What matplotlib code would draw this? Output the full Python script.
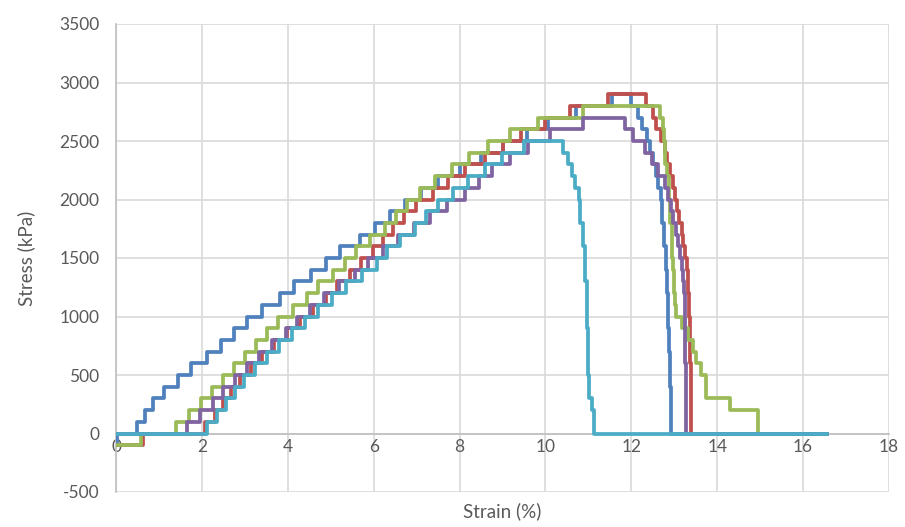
import matplotlib
matplotlib.use("Agg")
import matplotlib.pyplot as plt

# (strain %, stress kPa) step points, stress holds until next strain
blue = [(0, -100), (0.03, 0), (0.50, 100), (0.68, 200), (0.85, 300), (1.12, 400),
        (1.45, 500), (1.74, 600), (2.12, 700), (2.45, 800), (2.74, 900), (3.06, 1000),
        (3.40, 1100), (3.82, 1200), (4.14, 1300), (4.55, 1400), (4.90, 1500), (5.22, 1600),
        (5.68, 1700), (6.03, 1800), (6.38, 1900), (6.73, 2000), (7.10, 2100), (7.50, 2200),
        (8.01, 2300), (8.51, 2400), (9.00, 2500), (9.56, 2600), (10.07, 2700), (10.71, 2800),
        (11.54, 2900), (12.00, 2800), (12.16, 2700), (12.24, 2600), (12.36, 2500),
        (12.43, 2400), (12.51, 2300), (12.57, 2200), (12.63, 2100), (12.68, 2000),
        (12.72, 1800), (12.76, 1600), (12.80, 1400), (12.83, 1200), (12.86, 900),
        (12.88, 700), (12.90, 400), (12.92, 0), (16.55, 0)]

red = [(0, -100), (0.62, 0), (2.08, 100), (2.31, 200), (2.48, 300), (2.67, 400),
       (2.89, 500), (3.14, 600), (3.40, 700), (3.68, 800), (3.98, 900), (4.28, 1000),
       (4.58, 1100), (4.88, 1200), (5.15, 1300), (5.45, 1400), (5.70, 1500), (5.98, 1600),
       (6.22, 1700), (6.45, 1800), (6.70, 1900), (6.98, 2000), (7.37, 2100), (7.72, 2200),
       (8.12, 2300), (8.59, 2400), (9.02, 2500), (9.44, 2600), (9.99, 2700), (10.57, 2800),
       (11.45, 2900), (12.34, 2800), (12.50, 2700), (12.58, 2600), (12.70, 2500),
       (12.78, 2400), (12.83, 2300), (12.90, 2200), (12.96, 2100), (13.02, 2000),
       (13.07, 1900), (13.12, 1800), (13.17, 1700), (13.21, 1600), (13.26, 1500),
       (13.30, 1400), (13.33, 1200), (13.35, 1000), (13.36, 800), (13.37, 600),
       (13.38, 400), (13.39, 0), (16.55, 0)]

green = [(0, -100), (0.58, 0), (1.39, 100), (1.70, 200), (1.97, 300), (2.23, 400),
         (2.50, 500), (2.75, 600), (3.00, 700), (3.25, 800), (3.51, 900), (3.78, 1000),
         (4.13, 1100), (4.44, 1200), (4.71, 1300), (5.06, 1400), (5.33, 1500), (5.60, 1600),
         (5.91, 1700), (6.26, 1800), (6.53, 1900), (6.77, 2000), (7.08, 2100), (7.43, 2200),
         (7.82, 2300), (8.22, 2400), (8.67, 2500), (9.17, 2600), (9.83, 2700), (10.88, 2800),
         (12.67, 2700), (12.74, 2600), (12.76, 2500), (12.79, 2300), (12.83, 2200),
         (12.87, 2000), (12.90, 1800), (12.94, 1500), (12.98, 1400), (13.00, 1200),
         (13.02, 1100), (13.05, 1000), (13.17, 900), (13.32, 800), (13.43, 700),
         (13.51, 600), (13.63, 500), (13.75, 300), (14.30, 200), (14.96, 0), (16.55, 0)]

purple = [(0, 0), (1.65, 100), (1.96, 200), (2.25, 300), (2.50, 400), (2.77, 500),
          (3.04, 600), (3.34, 700), (3.63, 800), (3.95, 900), (4.22, 1000), (4.52, 1100),
          (4.85, 1200), (5.20, 1300), (5.56, 1400), (5.87, 1500), (6.22, 1600), (6.57, 1700),
          (6.95, 1800), (7.31, 1900), (7.70, 2000), (8.13, 2100), (8.45, 2200), (8.75, 2300),
          (9.17, 2400), (9.60, 2500), (10.10, 2600), (10.88, 2700), (11.85, 2600),
          (12.04, 2500), (12.32, 2400), (12.47, 2300), (12.63, 2200), (12.78, 2100),
          (12.86, 2000), (12.93, 1900), (12.98, 1800), (13.04, 1700), (13.09, 1600),
          (13.13, 1500), (13.17, 1400), (13.20, 1300), (13.22, 1200), (13.24, 1000),
          (13.25, 800), (13.26, 600), (13.27, 300), (13.28, 0), (16.55, 0)]

cyan = [(0, 0), (2.13, 100), (2.36, 200), (2.56, 300), (2.77, 400), (2.98, 500),
        (3.24, 600), (3.52, 700), (3.80, 800), (4.10, 900), (4.40, 1000), (4.70, 1100),
        (5.02, 1200), (5.36, 1300), (5.72, 1400), (6.07, 1500), (6.30, 1600), (6.61, 1700),
        (6.96, 1800), (7.23, 1900), (7.50, 2000), (7.85, 2100), (8.20, 2200), (8.59, 2300),
        (8.98, 2400), (9.50, 2500), (10.41, 2400), (10.53, 2300), (10.61, 2200),
        (10.69, 2100), (10.77, 2000), (10.80, 1800), (10.87, 1600), (10.92, 1300),
        (10.96, 900), (10.98, 500), (11.02, 300), (11.08, 200), (11.14, 0), (16.55, 0)]

series = [(blue, "#4F81BD"), (red, "#C0504D"), (green, "#9BBB59"),
          (purple, "#8064A2"), (cyan, "#4BACC6")]

plt.rcParams['font.family'] = ['Lato', 'DejaVu Sans']
plt.rcParams['axes.unicode_minus'] = False
txt = '#595959'

fig = plt.figure(figsize=(9.05, 5.27), dpi=100)
ax = fig.add_axes([116 / 905, 1 - 492 / 527, (889 - 116) / 905, (492 - 24) / 527])

for pts, col in series:
    xs = [p[0] for p in pts]
    ys = [p[1] for p in pts]
    ax.step(xs, ys, where='post', color=col, lw=2.7, zorder=3)

ax.set_xlim(0, 18)
ax.set_ylim(-500, 3500)
ax.set_xticks(range(0, 19, 2))
ax.set_yticks(range(-500, 3501, 500))
ax.grid(True, color='#D9D9D9', lw=1.2)
ax.set_axisbelow(True)

for s in ['top', 'right']:
    ax.spines[s].set_visible(False)
ax.spines['bottom'].set_position(('data', 0))
ax.spines['bottom'].set_color('#BFBFBF')
ax.spines['left'].set_color('#BFBFBF')
ax.spines['bottom'].set_linewidth(1.2)
ax.spines['left'].set_linewidth(1.2)
ax.tick_params(length=0, labelsize=12.5, labelcolor=txt)
ax.tick_params(axis='x', pad=4)
ax.tick_params(axis='y', pad=12)

ax.set_xlabel('Strain (%)', fontsize=13.5, color=txt)
ax.xaxis.set_label_coords(0.5, -0.022)
ax.set_ylabel('Stress (kPa)', fontsize=13.5, color=txt)
ax.yaxis.set_label_coords(-0.104, 0.5)

fig.savefig('out.png', dpi=100)
